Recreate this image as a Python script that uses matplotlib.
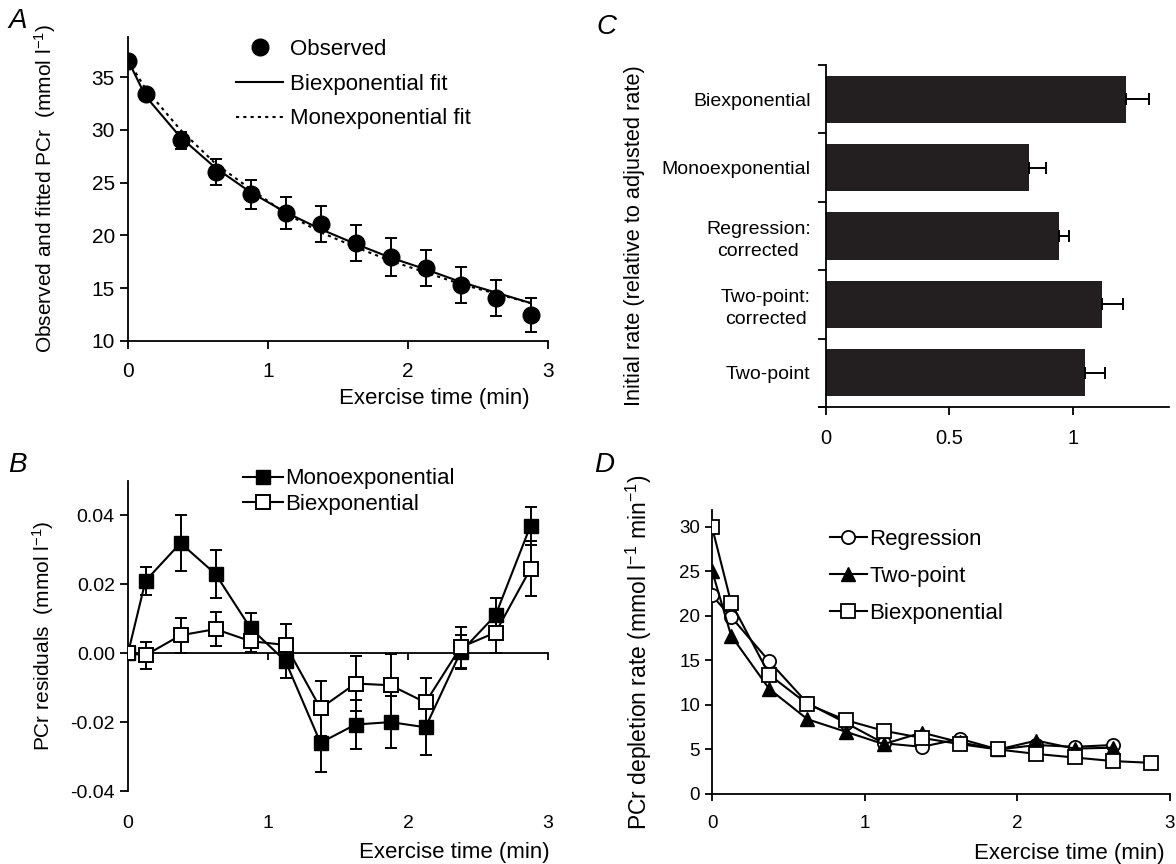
import matplotlib
matplotlib.use("Agg")
import matplotlib.pyplot as plt
import numpy as np

plt.rcParams['font.family'] = ['Liberation Sans', 'DejaVu Sans']
plt.rcParams['mathtext.default'] = 'regular'
plt.rcParams['axes.unicode_minus'] = False
plt.rcParams['font.size'] = 13

# ---------------- data ----------------
time_a = [0, 0.125, 0.375, 0.625, 0.875, 1.125, 1.375, 1.625, 1.875, 2.125, 2.375, 2.625, 2.875]
observed = [36.5, 33.4, 29.0, 26.0, 23.9, 22.1, 21.1, 19.3, 18.0, 16.9, 15.3, 14.1, 12.5]
observed_err = [0.0, 0.3, 0.8, 1.2, 1.4, 1.5, 1.7, 1.7, 1.8, 1.7, 1.7, 1.7, 1.6]
biexp_fit = [36.6, 33.2, 29.3, 26.4, 24.1, 22.2, 20.6, 19.2, 17.9, 16.8, 15.6, 14.6, 13.6]
monoexp_fit = [36.6, 33.9, 30.0, 26.8, 24.4, 22.1, 20.3, 18.9, 17.6, 16.5, 15.4, 14.5, 13.6]

resid_mono = [0.000, 0.021, 0.032, 0.023, 0.0073, -0.0023, -0.026, -0.0207, -0.020, -0.0215, 0.0003, 0.011, 0.037]
resid_mono_err = [0.0, 0.004, 0.008, 0.007, 0.0045, 0.005, 0.0085, 0.007, 0.0075, 0.008, 0.005, 0.005, 0.0055]
resid_bi = [0.000, -0.0006, 0.0052, 0.007, 0.0035, 0.0024, -0.016, -0.0088, -0.0093, -0.0143, 0.0017, 0.006, 0.0245]
resid_bi_err = [0.0, 0.004, 0.005, 0.005, 0.003, 0.006, 0.008, 0.008, 0.009, 0.007, 0.006, 0.006, 0.008]

methods = ['Two-point', 'Two-point:\ncorrected', 'Regression:\ncorrected', 'Monoexponential', 'Biexponential']
initial_rate = [1.048, 1.12, 0.943, 0.823, 1.215]
initial_rate_err = [0.082, 0.085, 0.043, 0.07, 0.095]

time_d = [0, 0.125, 0.375, 0.625, 0.875, 1.125, 1.375, 1.625, 1.875, 2.125, 2.375, 2.625]
time_d_bi = [0, 0.125, 0.375, 0.625, 0.875, 1.125, 1.375, 1.625, 1.875, 2.125, 2.375, 2.625, 2.875]
rate_regression = [22.3, 19.9, 14.9, 10.2, 8.0, 5.7, 5.3, 6.2, 5.0, 5.5, 5.3, 5.5]
rate_twopoint = [25.1, 17.8, 11.8, 8.4, 7.0, 5.6, 6.9, 5.8, 5.0, 6.0, 5.1, 5.2]
rate_biexp = [30.0, 21.5, 13.4, 10.1, 8.3, 7.1, 6.3, 5.6, 5.0, 4.5, 4.1, 3.7, 3.5]

W, H = 1176, 864
fig = plt.figure(figsize=(W / 100, H / 100), dpi=100)


def px_axes(left, top, right, bottom):
    return fig.add_axes([left / W, 1 - bottom / H, (right - left) / W, (bottom - top) / H])


def style(ax, ls=13):
    for s in ['top', 'right']:
        ax.spines[s].set_visible(False)
    for s in ['left', 'bottom']:
        ax.spines[s].set_linewidth(1.3)
    ax.tick_params(direction='out', length=6, width=1.3, labelsize=ls)


# ---------------- Panel A ----------------
axA = px_axes(128, 37, 548, 341)
style(axA, 15)
axA.errorbar(time_a, observed, yerr=observed_err, fmt='none', ecolor='black',
             elinewidth=1.4, capsize=4, capthick=1.4, zorder=2)
axA.plot(time_a, biexp_fit, color='black', lw=1.5, zorder=3, label='Biexponential fit')
axA.plot(time_a, monoexp_fit, color='black', lw=1.5, ls=(0, (1.5, 2)), zorder=3, label='Monexponential fit')
axA.plot(time_a, observed, 'o', color='black', ms=12, zorder=4, label='Observed')
axA.set_xlim(0, 3)
axA.set_ylim(10, 38.8)
axA.set_xticks([0, 1, 2, 3])
axA.set_yticks([10, 15, 20, 25, 30, 35])
axA.tick_params(axis='x', pad=9)
axA.set_xlabel('Exercise time (min)', fontsize=16, ha='right', va='center')
axA.xaxis.set_label_coords(0.957, -0.188)
axA.set_ylabel('Observed and fitted PCr  (mmol l$^{-1}$)', fontsize=15, labelpad=24)
h, l = axA.get_legend_handles_labels()
axA.legend([h[2], h[0], h[1]], [l[2], l[0], l[1]], loc='upper left', bbox_to_anchor=(0.21, 1.06),
           frameon=False, fontsize=16, handlelength=2.1, handletextpad=0.3, labelspacing=0.62)
fig.text(8 / W, 1 - 28 / H, 'A', fontsize=20, style='italic')

# ---------------- Panel B ----------------
axB = px_axes(128, 481, 548, 791)
style(axB, 14)
axB.spines['bottom'].set_position(('data', 0))
axB.errorbar(time_a, resid_mono, yerr=resid_mono_err, fmt='none', ecolor='black',
             elinewidth=1.4, capsize=4, capthick=1.4, zorder=2)
axB.errorbar(time_a, resid_bi, yerr=resid_bi_err, fmt='none', ecolor='black',
             elinewidth=1.4, capsize=4, capthick=1.4, zorder=2)
axB.plot(time_a, resid_mono, '-s', color='black', mfc='black', mec='black', ms=10, lw=1.5,
         zorder=3, label='Monoexponential')
axB.plot(time_a, resid_bi, '-s', color='black', mfc='white', mec='black', mew=1.4, ms=10, lw=1.5,
         zorder=4, label='Biexponential')
axB.set_xlim(0, 3)
axB.set_ylim(-0.04, 0.05)
axB.set_xticks([0, 1, 2, 3])
axB.tick_params(axis='x', labelbottom=False, length=5)
axB.set_yticks([-0.04, -0.02, 0.0, 0.02, 0.04])
axB.set_yticklabels(['-0.04', '-0.02', '0.00', '0.02', '0.04'])
secB = axB.secondary_xaxis(0.0)
secB.set_xticks([0, 1, 2, 3])
secB.tick_params(length=0, pad=17, labelsize=14)
secB.spines['bottom'].set_visible(False)
axB.set_xlabel('Exercise time (min)', fontsize=16, ha='right', va='center')
axB.xaxis.set_label_coords(1.005, -0.197)
axB.set_ylabel('PCr residuals  (mmol l$^{-1}$)', fontsize=15, labelpad=10)
axB.legend(loc='upper left', bbox_to_anchor=(0.226, 1.105), frameon=False, fontsize=16,
           handlelength=1.8, handletextpad=0.1, labelspacing=0.2)
fig.text(8 / W, 1 - 472 / H, 'B', fontsize=20, style='italic')

# ---------------- Panel C ----------------
axC = px_axes(819, 65, 1169, 407)
style(axC, 14.5)
ypos = np.arange(len(methods))
axC.barh(ypos, initial_rate, height=0.69, color='#231f20', zorder=2)
axC.errorbar(initial_rate, ypos, xerr=[np.zeros(len(initial_rate)), initial_rate_err], fmt='none',
             ecolor='black', elinewidth=1.4, capsize=4, capthick=1.4, zorder=3)
axC.set_xlim(-0.028, 1.39)
axC.set_ylim(-0.5, 4.5)
axC.spines['left'].set_position(('data', 0))
axC.set_xticks([0, 0.5, 1])
axC.set_xticklabels(['0', '0.5', '1'])
axC.tick_params(axis='x', pad=10)
axC.set_yticks(np.arange(len(methods) + 1) - 0.5)
axC.set_yticklabels([])
axC.set_yticks(ypos, minor=True)
axC.set_yticklabels(methods, minor=True, fontsize=14, multialignment='center', linespacing=1.35)
axC.tick_params(axis='y', which='minor', length=0, pad=11)
axC.set_ylabel('Initial rate (relative to adjusted rate)', fontsize=15.7, labelpad=12)
fig.text(596 / W, 1 - 34 / H, 'C', fontsize=20, style='italic')

# ---------------- Panel D ----------------
axD = px_axes(712, 510, 1170, 794)
style(axD, 13.5)
axD.tick_params(length=5)
axD.plot(time_d, rate_regression, '-o', color='black', mfc='white', mec='black', mew=1.3, ms=9.5,
         lw=1.5, zorder=3, label='Regression')
axD.plot(time_d, rate_twopoint, '-^', color='black', mfc='black', ms=10, lw=1.5, zorder=4,
         label='Two-point')
axD.plot(time_d_bi, rate_biexp, '-s', color='black', mfc='white', mec='black', mew=1.3, ms=10,
         lw=1.5, zorder=5, label='Biexponential')
axD.set_xlim(0, 3)
axD.set_ylim(0, 31.9)
axD.set_xticks([0, 1, 2, 3])
axD.set_yticks([0, 5, 10, 15, 20, 25, 30])
axD.tick_params(axis='x', pad=10)
axD.set_xlabel('Exercise time (min)', fontsize=16, ha='right', va='center')
axD.xaxis.set_label_coords(0.989, -0.208)
axD.set_ylabel('PCr depletion rate (mmol l$^{-1}$ min$^{-1}$)', fontsize=16.5, labelpad=18)
axD.legend(loc='upper left', bbox_to_anchor=(0.213, 1.005), frameon=False, fontsize=16,
           handlelength=1.7, handletextpad=0.1, labelspacing=0.72)
fig.text(594 / W, 1 - 472 / H, 'D', fontsize=20, style='italic')

fig.savefig('out.png', dpi=100)
